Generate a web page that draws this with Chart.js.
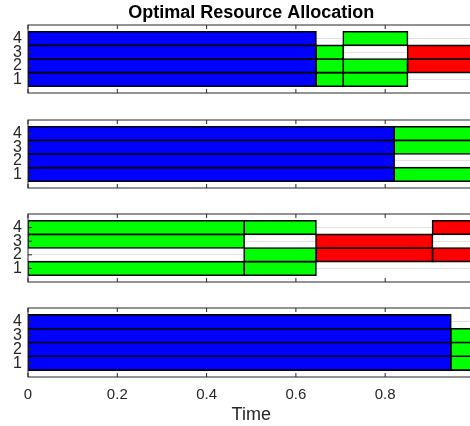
<!DOCTYPE html>
<html>
<head>
<meta charset="utf-8">
<script src="https://cdn.jsdelivr.net/npm/chart.js@4.4.0/dist/chart.umd.min.js"></script>
<style>
  html, body { margin: 0; padding: 0; background: #fff; overflow: hidden; }
  #wrap { position: relative; width: 470px; height: 426px; overflow: hidden; }
  #wrap canvas { position: absolute; left: 0; }
</style>
</head>
<body>
<div id="wrap">
  <canvas id="c1" width="480" height="95" style="top:0px"></canvas>
  <canvas id="c2" width="480" height="78" style="top:115px"></canvas>
  <canvas id="c3" width="480" height="79" style="top:209px"></canvas>
  <canvas id="c4" width="480" height="123" style="top:303px"></canvas>
</div>
<script>
// units on the y axis and time ticks
const units = [1, 2, 3, 4];
const timeTicks = [0, 0.2, 0.4, 0.6, 0.8, 1];

// time breakpoints of each panel (last value = end of horizon)
const breaks1 = [0, 0.645, 0.706, 0.850, 1.0];
const breaks2 = [0, 0.820, 1.0];
const breaks3 = [0, 0.484, 0.645, 0.906, 1.0];
const breaks4 = [0, 0.947, 1.0];

// resource used by units 1..4 in each interval: B blue, G green, R red, '' idle
const alloc1 = [['B','B','B','B'], ['G','G','G',''], ['G','G','','G'], ['','R','R','']];
const alloc2 = [['B','B','B','B'], ['G','','G','G']];
const alloc3 = [['G','','G','G'], ['G','G','','G'], ['','R','R',''], ['','R','','R']];
const alloc4 = [['B','B','B','B'], ['G','G','G','']];

const colours = { B: '#0000ff', G: '#00ff00', R: '#ff0000' };

Chart.defaults.font.family = '"Liberation Sans", Arial, Helvetica, sans-serif';
Chart.defaults.color = '#262626';

// MATLAB-like box with inward ticks
const framePlugin = {
    id: 'frame',
    afterDatasetsDraw(chart) {
        const { ctx, chartArea: a, scales: { x, y } } = chart;
        ctx.save();
        ctx.strokeStyle = '#262626';
        ctx.lineWidth = 1;
        ctx.beginPath();
        units.forEach(u => {
            const py = y.getPixelForValue(u);
            ctx.moveTo(a.left, py); ctx.lineTo(a.left + 4, py);
        });
        timeTicks.forEach(t => {
            const px = x.getPixelForValue(t);
            ctx.moveTo(px, a.bottom); ctx.lineTo(px, a.bottom - 4);
            ctx.moveTo(px, a.top); ctx.lineTo(px, a.top + 4);
        });
        ctx.stroke();
        ctx.strokeRect(a.left, a.top, a.right - a.left, a.bottom - a.top);
        ctx.restore();
    }
};

function buildDatasets(breaks, alloc) {
    return alloc.map((rows, k) => {
        const data = [];
        const bg = [];
        rows.forEach((r, i) => {
            if (!r) return;
            data.push({ x: [breaks[k], breaks[k + 1]], y: units[i] });
            bg.push(colours[r]);
        });
        return {
            data: data,
            backgroundColor: bg,
            borderColor: '#000',
            borderWidth: 1.6,
            borderSkipped: false,
            inflateAmount: 0.8,
            barPercentage: 1,
            categoryPercentage: 1
        };
    });
}

function makePanel(id, breaks, alloc, opts) {
    const showX = !!opts.showX;
    return new Chart(document.getElementById(id), {
        type: 'bar',
        data: { datasets: buildDatasets(breaks, alloc) },
        options: {
            responsive: false,
            animation: false,
            indexAxis: 'y',
            grouped: false,
            layout: { padding: opts.padding },
            plugins: {
                legend: { display: false },
                tooltip: { enabled: false },
                title: opts.title ? {
                    display: true,
                    text: opts.title,
                    fullSize: false,
                    color: '#000',
                    font: { size: 18, weight: 'bold' },
                    padding: { top: 2, bottom: 1.4 }
                } : { display: false }
            },
            scales: {
                y: {
                    type: 'linear',
                    min: 0,
                    max: 5,
                    offset: false,
                    afterBuildTicks: s => { s.ticks = units.map(v => ({ value: v })); },
                    afterFit: s => { s.width = 28; s.paddingTop = 0; s.paddingBottom = 0; },
                    grid: { color: '#e3e3e3', lineWidth: 1, drawTicks: false, offset: false },
                    border: { display: false },
                    ticks: { font: { size: 16 }, padding: 6, autoSkip: false }
                },
                x: {
                    type: 'linear',
                    min: 0,
                    max: 1,
                    display: showX,
                    afterBuildTicks: s => { s.ticks = timeTicks.map(v => ({ value: v })); },
                    afterFit: s => {
                        if (showX) s.height = 49;
                        s.paddingLeft = 0; s.paddingRight = 0;
                    },
                    grid: { display: false, drawTicks: false },
                    border: { display: false },
                    ticks: {
                        font: { size: 15 },
                        padding: 9,
                        autoSkip: false,
                        maxRotation: 0,
                        callback: v => String(v)
                    },
                    title: {
                        display: showX,
                        text: 'Time',
                        font: { size: 18 },
                        padding: { top: 0, bottom: 0 }
                    }
                }
            }
        },
        plugins: [framePlugin]
    });
}

makePanel('c1', breaks1, alloc1, { title: 'Optimal Resource Allocation', padding: { top: 0, bottom: 2, left: 0, right: 5.5 } });
makePanel('c2', breaks2, alloc2, { padding: { top: 5, bottom: 5, left: 0, right: 5.5 } });
makePanel('c3', breaks3, alloc3, { padding: { top: 5, bottom: 6, left: 0, right: 5.5 } });
makePanel('c4', breaks4, alloc4, { showX: true, padding: { top: 5, bottom: 0, left: 0, right: 5.5 } });
</script>
</body>
</html>
